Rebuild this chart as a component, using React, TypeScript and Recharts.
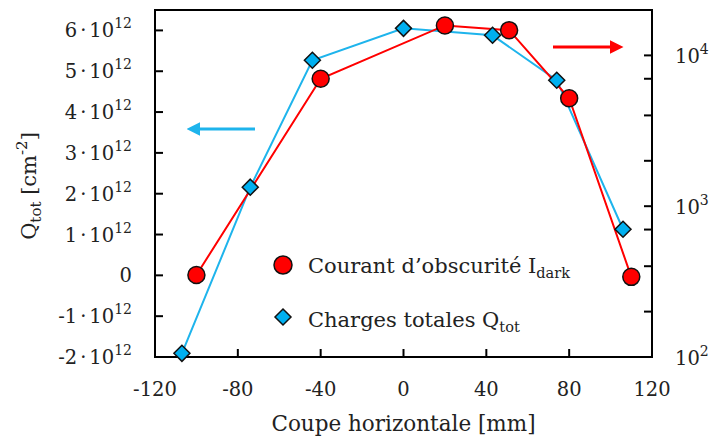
import React from 'react';
import { ComposedChart, Line, XAxis, YAxis, ReferenceArea } from 'recharts';

// dark current (right axis, log) and total charges (left axis)
const darkX = [-100, -40, 20, 51, 80, 110];
const darkI = [350, 7000, 15800, 14700, 5200, 340];
const chargeX = [-107, -74, -44, 0, 43, 74, 106];
const chargeQ = [-1.91e12, 2.16e12, 5.27e12, 6.05e12, 5.88e12, 4.78e12, 1.13e12];

const xTicks = [-120, -80, -40, 0, 40, 80, 120];
const qTicks = [-2e12, -1e12, 0, 1e12, 2e12, 3e12, 4e12, 5e12, 6e12];
const logTicks = [100, 200, 300, 400, 500, 600, 700, 800, 900, 1000, 2000, 3000, 4000, 5000, 6000, 7000, 8000, 9000, 10000];
const logLabels = [100, 1000, 10000];

const darkData = darkX.map((x, i) => ({ x, dark: darkI[i] }));
const chargeData = chargeX.map((x, i) => ({ x, q: chargeQ[i] }));

const FONT = '"DejaVu Serif", serif';
const RED = '#ff0000';
const BLUE = '#00b0f0';
const CYAN_LINE = '#1eb4ec';
const TICK = 8;

const LeftTick = (props: any) => {
    const { x, y, payload } = props;
    const v = payload.value / 1e12;
    return (
        <g>
            <line x1={x} x2={x + TICK} y1={y} y2={y} stroke="#000" strokeWidth={2} />
            <text x={x - 23} y={y + 7} textAnchor="end" fontFamily={FONT} fontSize={19.5} fill="#222">
                {v === 0 ? '0' : `${v}`}
                {v !== 0 && <tspan dx={3}>·</tspan>}
                {v !== 0 && <tspan dx={3}>10</tspan>}
                {v !== 0 && <tspan dy={-9} fontSize={14}>12</tspan>}
            </text>
        </g>
    );
};

const RightTick = (props: any) => {
    const { x, y, payload } = props;
    const major = logLabels.includes(payload.value);
    const exp = Math.round(Math.log10(payload.value));
    return (
        <g>
            <line x1={x - TICK} x2={x} y1={y} y2={y} stroke="#000" strokeWidth={2} />
            {major && (
                <text x={x + 23} y={y + 8} textAnchor="start" fontFamily={FONT} fontSize={19.5} fill="#222">
                    10<tspan dy={-9} fontSize={14}>{exp}</tspan>
                </text>
            )}
        </g>
    );
};

const BottomTick = (props: any) => {
    const { x, y, payload } = props;
    return (
        <g>
            <line x1={x} x2={x} y1={y - TICK} y2={y} stroke="#000" strokeWidth={2} />
            <text x={x} y={y + 39} textAnchor="middle" fontFamily={FONT} fontSize={19.5} fill="#222">
                {payload.value}
            </text>
        </g>
    );
};

const Diamond = (props: any) => {
    const { cx, cy, index } = props;
    const s = 8;
    return (
        <path
            key={`d-${index}`}
            d={`M${cx},${cy - s}L${cx + s},${cy}L${cx},${cy + s}L${cx - s},${cy}Z`}
            fill={BLUE}
            stroke="#111"
            strokeWidth={1.5}
        />
    );
};

export default function App() {
    return (
        <div style={{ position: 'absolute', left: 0, top: 0, width: 712, height: 438, background: '#fff' }}>
            <ComposedChart width={712} height={438} margin={{ top: 10, right: 0, bottom: 0, left: 0 }}>
                <XAxis
                    dataKey="x"
                    type="number"
                    domain={[-120, 120]}
                    ticks={xTicks}
                    height={81}
                    tickSize={0}
                    tickMargin={0}
                    tickLine={false}
                    axisLine={false}
                    tick={<BottomTick />}
                    allowDuplicatedCategory={false}
                />
                <YAxis
                    yAxisId="left"
                    type="number"
                    domain={[-2e12, 6.5e12]}
                    ticks={qTicks}
                    width={155}
                    tickSize={0}
                    tickMargin={0}
                    tickLine={false}
                    axisLine={false}
                    tick={<LeftTick />}
                />
                <YAxis
                    yAxisId="right"
                    orientation="right"
                    type="number"
                    scale="log"
                    domain={[100, 20000]}
                    ticks={logTicks}
                    width={60}
                    tickSize={0}
                    tickMargin={0}
                    tickLine={false}
                    axisLine={false}
                    tick={<RightTick />}
                    allowDataOverflow
                />
                <ReferenceArea
                    yAxisId="left"
                    x1={-120}
                    x2={120}
                    y1={-2e12}
                    y2={6.5e12}
                    fill="none"
                    stroke="#000"
                    strokeWidth={2}
                    fillOpacity={0}
                />
                <Line
                    yAxisId="left"
                    data={chargeData}
                    dataKey="q"
                    stroke={CYAN_LINE}
                    strokeWidth={2}
                    dot={<Diamond />}
                    isAnimationActive={false}
                />
                <Line
                    yAxisId="right"
                    data={darkData}
                    dataKey="dark"
                    stroke={RED}
                    strokeWidth={2}
                    dot={{ r: 8.5, fill: RED, stroke: '#111', strokeWidth: 1.5 }}
                    isAnimationActive={false}
                />
            </ComposedChart>
            <svg width={712} height={438} style={{ position: 'absolute', left: 0, top: 0, pointerEvents: 'none' }}>
                <defs>
                    <marker id="headBlue" markerWidth="4.5" markerHeight="4.5" refX="0" refY="2.25" orient="auto" markerUnits="strokeWidth">
                        <path d="M0,0 L4.5,2.25 L0,4.5 Z" fill={CYAN_LINE} />
                    </marker>
                    <marker id="headRed" markerWidth="4.5" markerHeight="4.5" refX="0" refY="2.25" orient="auto" markerUnits="strokeWidth">
                        <path d="M0,0 L4.5,2.25 L0,4.5 Z" fill={RED} />
                    </marker>
                </defs>
                <line x1={255} y1={129} x2={200} y2={129} stroke={CYAN_LINE} strokeWidth={3} markerEnd="url(#headBlue)" />
                <line x1={553} y1={47} x2={610} y2={47} stroke={RED} strokeWidth={3} markerEnd="url(#headRed)" />

                <text
                    transform="translate(36,186) rotate(-90)"
                    textAnchor="middle"
                    fontFamily={FONT}
                    fontSize={21}
                    fill="#222"
                >
                    Q<tspan dy={5} fontSize={15}>tot</tspan>
                    <tspan dy={-5}> [cm</tspan>
                    <tspan dy={-9} fontSize={15}>-2</tspan>
                    <tspan dy={9}>]</tspan>
                </text>
                <text x={403.5} y={431} textAnchor="middle" fontFamily={FONT} fontSize={21.5} fill="#222">
                    Coupe horizontale [mm]
                </text>

                <circle cx={283} cy={265} r={9} fill={RED} stroke="#111" strokeWidth={1.5} />
                <text x={308} y={273} fontFamily={FONT} fontSize={21} fill="#222">
                    Courant d’obscurité I<tspan dy={5} fontSize={14.5}>dark</tspan>
                </text>
                <path d="M283,309 L291,317 L283,325 L275,317 Z" fill={BLUE} stroke="#111" strokeWidth={1.5} />
                <text x={308} y={327} fontFamily={FONT} fontSize={21} fill="#222">
                    Charges totales Q<tspan dy={5} fontSize={14.5}>tot</tspan>
                </text>
            </svg>
        </div>
    );
}
